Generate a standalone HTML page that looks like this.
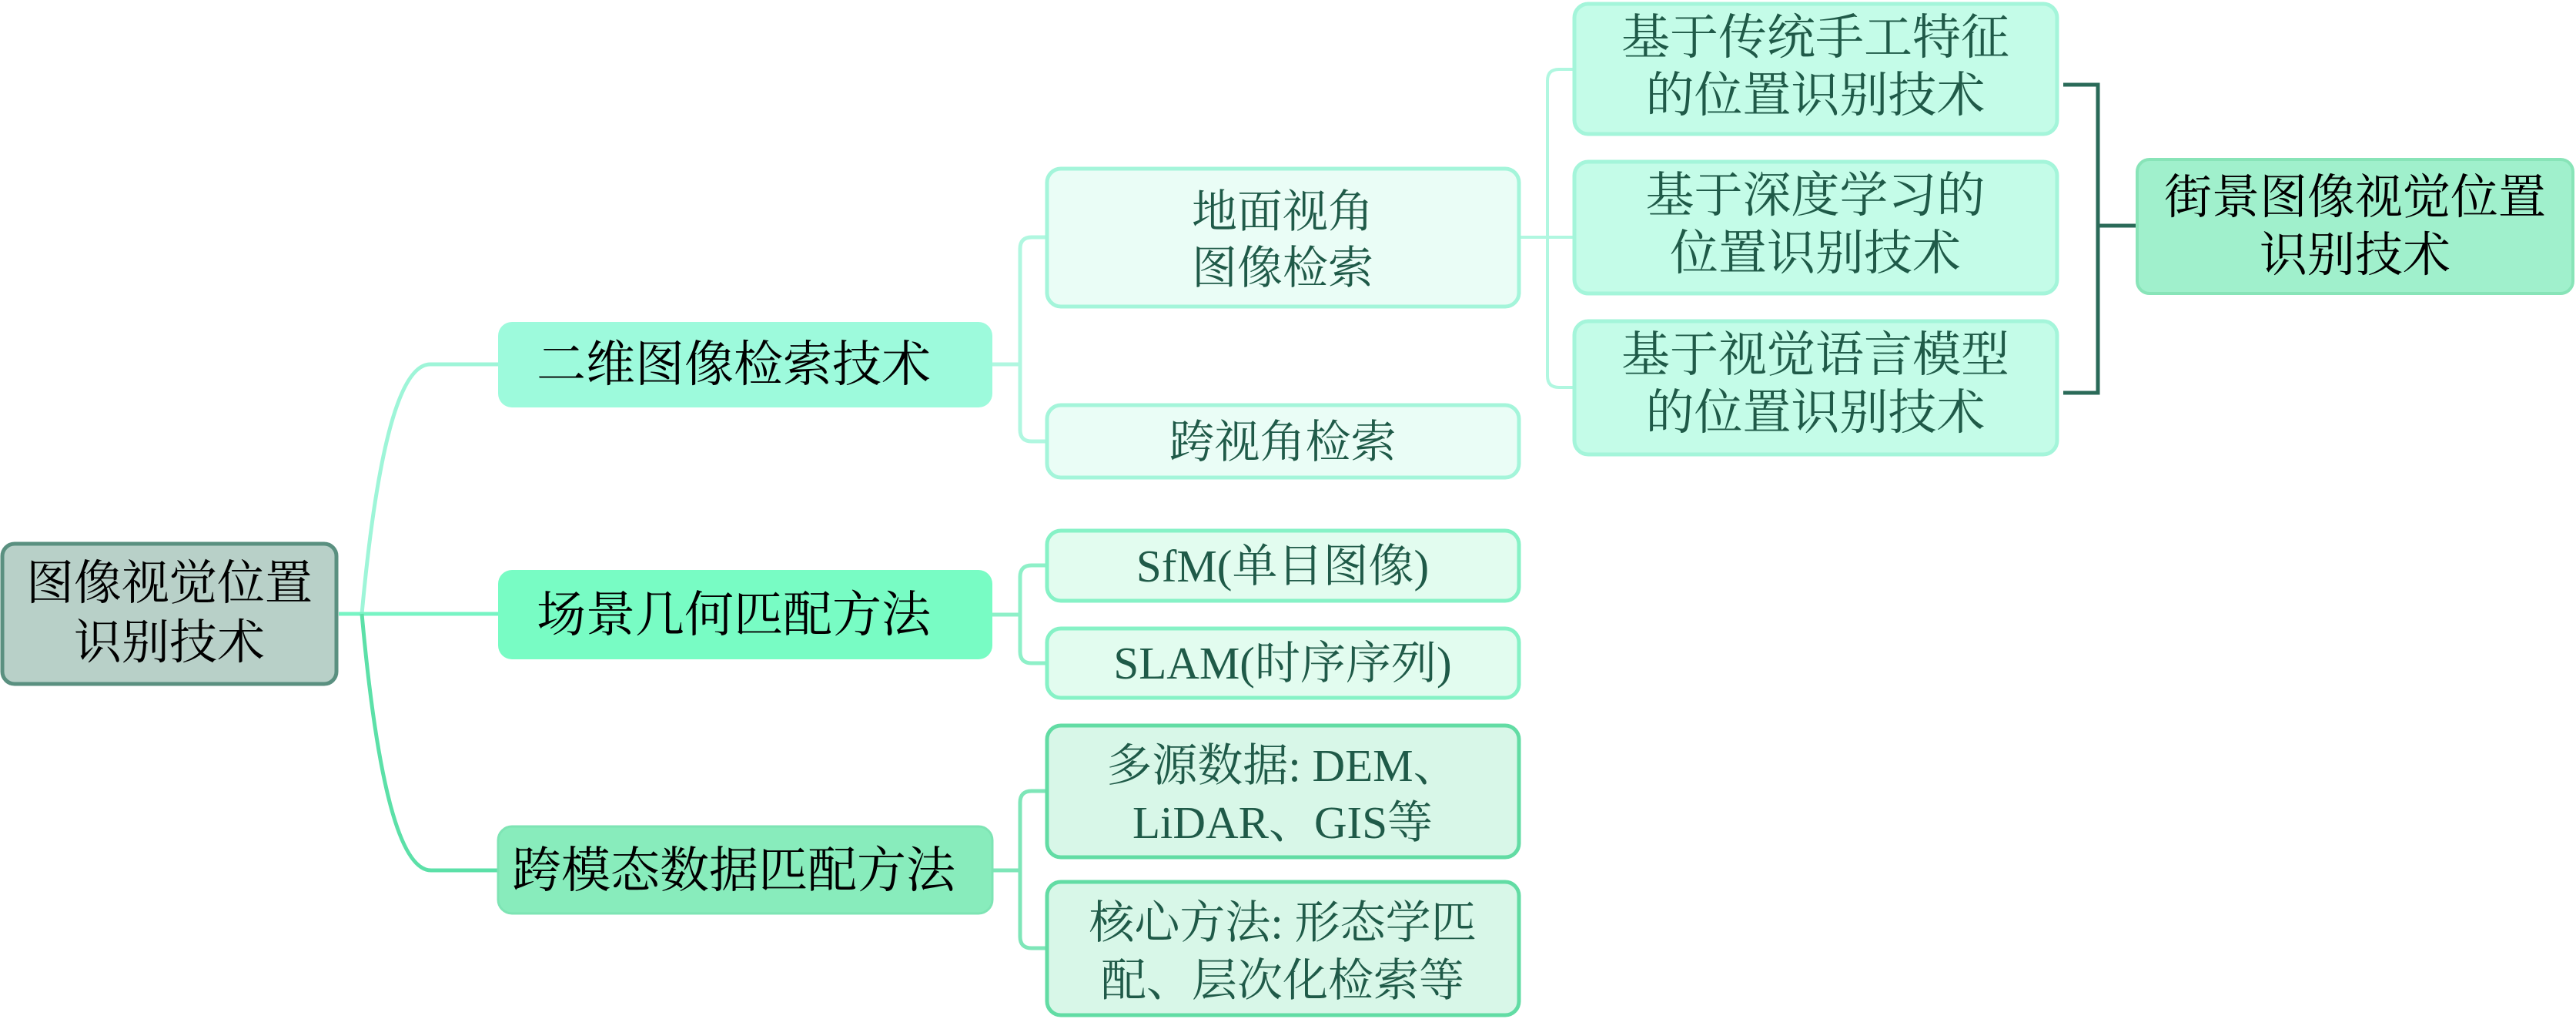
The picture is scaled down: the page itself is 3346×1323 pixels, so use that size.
<!DOCTYPE html>
<html><head><meta charset="utf-8"><style>
html,body{margin:0;padding:0;background:#fff;width:3346px;height:1323px;overflow:hidden}
svg{display:block}
text{font-family:"Liberation Serif","Noto Serif CJK SC",serif;text-anchor:middle}
</style></head><body>
<svg width="3346" height="1323" viewBox="0 0 3346 1323" xmlns="http://www.w3.org/2000/svg">
<g fill="none" stroke-width="5">
<path d="M440 797 H470 Q500 470 560 473 H647" stroke="#9ef5d8"/>
<path d="M440 797 H647" stroke="#78f4c4"/>
<path d="M470 797 Q500 1130 560 1130 H647" stroke="#5ce0a8"/>
<path d="M1289 473 H1325 M1359 308 H1340 Q1325 308 1325 323 V558 Q1325 573 1340 573 H1359" stroke="#b0f7e0"/>
<path d="M1289 798 H1325 M1359 734 H1340 Q1325 734 1325 749 V846 Q1325 861 1340 861 H1359" stroke="#8ef0c8"/>
<path d="M1289 1130 H1325 M1359 1027 H1340 Q1325 1027 1325 1042 V1216 Q1325 1231 1340 1231 H1359" stroke="#7ee6b8"/>
<path d="M1974 308 H2044 M2044 90 H2025 Q2010 90 2010 105 V488 Q2010 503 2025 503 H2044" stroke="#b0f7e0" stroke-width="4"/>
<path d="M2680 110 H2725 V510 H2680 M2725 293 H2774" stroke="#2a6a58" stroke-width="5"/>
</g>
<rect x="3" y="706" width="434" height="182" rx="16" fill="#b8d0c8" stroke="#5a9080" stroke-width="5"/>
<text x="220" y="778" font-size="62">图像视觉位置</text>
<text x="220" y="855" font-size="62">识别技术</text>
<rect x="647" y="418" width="642" height="111" rx="18" fill="#9dfadc"/>
<text x="953" y="495" font-size="64">二维图像检索技术</text>
<rect x="647" y="740" width="642" height="116" rx="18" fill="#78fcc4"/>
<text x="953" y="820" font-size="64">场景几何匹配方法</text>
<rect x="647" y="1073" width="642" height="113" rx="18" fill="#88ecbc" stroke="#7ee4b4" stroke-width="3"/>
<text x="953" y="1152" font-size="64">跨模态数据匹配方法</text>
<g stroke-width="5" font-size="59" fill="#1f5a48">
<rect x="1360" y="219" width="613" height="179" rx="18" fill="#eafdf6" stroke="#a4f5da"/>
<text x="1666" y="295">地面视角</text><text x="1666" y="368">图像检索</text>
<rect x="1360" y="526" width="613" height="94" rx="18" fill="#eafdf6" stroke="#a4f5da"/>
<text x="1666" y="594">跨视角检索</text>
<rect x="1360" y="689" width="613" height="91" rx="18" fill="#e2fcef" stroke="#86f2c6"/>
<text x="1666" y="755">SfM(单目图像)</text>
<rect x="1360" y="816" width="613" height="90" rx="18" fill="#e2fcef" stroke="#86f2c6"/>
<text x="1666" y="881">SLAM(时序序列)</text>
<rect x="1360" y="942" width="613" height="171" rx="18" fill="#d8f7e8" stroke="#62dca4"/>
<text x="1666" y="1014">多源数据: DEM、</text><text x="1666" y="1088">LiDAR、GIS等</text>
<rect x="1360" y="1145" width="613" height="173" rx="18" fill="#d8f7e8" stroke="#62dca4"/>
<text x="1666" y="1218">核心方法: 形态学匹</text><text x="1666" y="1293">配、层次化检索等</text>
</g>
<g stroke-width="5" font-size="63" fill="#1f5a48">
<rect x="2045" y="5" width="627" height="169" rx="18" fill="#c4fce8" stroke="#a4f5da"/>
<text x="2358" y="70">基于传统手工特征</text><text x="2358" y="145">的位置识别技术</text>
<rect x="2045" y="210" width="627" height="171" rx="18" fill="#c4fce8" stroke="#a4f5da"/>
<text x="2358" y="275">基于深度学习的</text><text x="2358" y="350">位置识别技术</text>
<rect x="2045" y="417" width="627" height="173" rx="18" fill="#c4fce8" stroke="#a4f5da"/>
<text x="2358" y="482">基于视觉语言模型</text><text x="2358" y="557">的位置识别技术</text>
</g>
<rect x="2776" y="207" width="566" height="174" rx="16" fill="#a0f0cc" stroke="#88e4b8" stroke-width="4"/>
<text x="3059" y="277" font-size="62">街景图像视觉位置</text>
<text x="3059" y="352" font-size="62">识别技术</text>
</svg>
</body></html>
